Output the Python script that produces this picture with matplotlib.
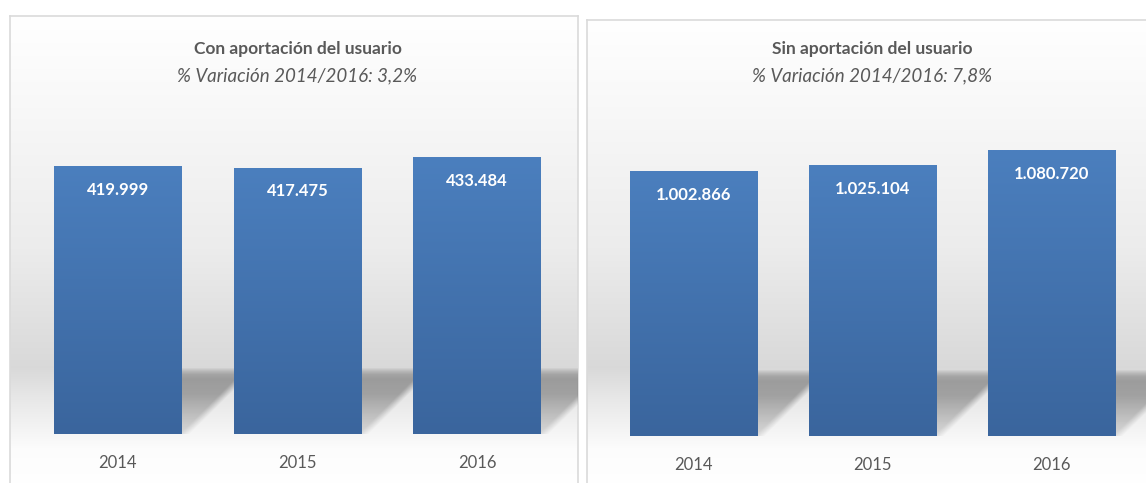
import numpy as np
import matplotlib
matplotlib.use("Agg")
import matplotlib.pyplot as plt
from matplotlib.colors import LinearSegmentedColormap

plt.rcParams['font.family'] = ['Lato', 'DejaVu Sans']

years = ["2014", "2015", "2016"]
con_aport = [419999, 417475, 433484]
sin_aport = [1002866, 1025104, 1080720]
titles = ["Con aportación del usuario", "Sin aportación del usuario"]
subtitles = ["% Variación 2014/2016: 3,2%", "% Variación 2014/2016: 7,8%"]

W, H = 1146, 483
fig = plt.figure(figsize=(W / 100, H / 100), dpi=100)


def rect(x0, y0, x1, y1):
    # pixel box (top-left origin) -> figure fraction
    return [x0 / W, 1 - y1 / H, (x1 - x0) / W, (y1 - y0) / H]


def fmt(v):
    return f"{v:,}".replace(",", ".")


def background(box):
    ax = fig.add_axes(rect(*box), zorder=0)
    top, bot = box[1], box[3]
    ys = np.linspace(top, bot, 400)
    stops = [top, 100, 250, 368, 400, 435, 450, bot]
    vals = [1.00, 0.975, 0.925, 0.85, 0.91, 0.965, 0.99, 1.0]
    g = np.interp(ys, stops, vals)
    img = np.repeat(np.repeat(g[:, None, None], 2, axis=1), 3, axis=2)
    ax.imshow(img, aspect="auto", extent=(0, 1, 0, 1), interpolation="bilinear")
    ax.set_xticks([])
    ax.set_yticks([])
    for s in ax.spines.values():
        s.set_color("#dadada")
        s.set_linewidth(1.2)
    return ax


bar_cmap = LinearSegmentedColormap.from_list("bar", ["#3a659d", "#4b7fbe"])


def panel(box, base_px, centers_px, ymax, values, title, subtitle):
    background(box)
    x0, y0, x1, _ = box
    step = (centers_px[2] - centers_px[0]) / 2
    ax = fig.add_axes(rect(x0, y0, x1, base_px), zorder=1)
    ax.patch.set_alpha(0)
    xs = np.arange(len(values))
    bars = ax.bar(xs, values, width=0.71, color="#4574b0", zorder=2)

    # soft floor shadow to the right of each bar, cut by a 45 degree edge
    px_x = 1 / step
    px_y = ymax / (base_px - y0)
    sw, sh = 90, 66
    dx, dy = np.meshgrid(np.linspace(0, sw, 180), np.linspace(0, sh, 132))
    prof = np.interp(dy, [0, 12, 30, 40, 55, 60, 64, 66],
                     [0.12, 0.17, 0.25, 0.3, 0.3, 0.25, 0.12, 0.03])
    edge = np.clip((dy - (dx - 3)) / 10 + 0.5, 0, 1)
    shade = np.zeros(dx.shape + (4,))
    shade[..., 3] = prof * edge
    for b in bars:
        xr = b.get_x() + b.get_width()
        ax.imshow(shade, aspect="auto", origin="lower", interpolation="bilinear",
                  extent=(xr, xr + sw * px_x, 0, sh * px_y), zorder=1)

    grad = np.linspace(0, 1, 256)[:, None]
    for b in bars:
        im = ax.imshow(grad, cmap=bar_cmap, aspect="auto", origin="lower",
                       extent=(b.get_x(), b.get_x() + b.get_width(), 0, b.get_height()),
                       zorder=3)
        im.set_clip_path(b)
        ax.annotate(fmt(b.get_height()), (b.get_x() + b.get_width() / 2, b.get_height()),
                    xytext=(0, -17), textcoords="offset points", ha="center", va="center",
                    color="white", fontsize=12, fontweight="bold", zorder=4)
    ax.set_xlim(-(centers_px[0] - x0) / step, 2 + (x1 - centers_px[2]) / step)
    ax.set_ylim(0, ymax)
    ax.set_yticks([])
    ax.set_xticks(xs)
    ax.set_xticklabels(years, fontsize=12, color="#595959")
    ax.tick_params(axis="x", length=0, pad=15)
    for s in ax.spines.values():
        s.set_visible(False)
    cx = centers_px[1]
    fig.text(cx / W, 1 - 49 / H, title, ha="center", va="center",
             fontsize=12.5, fontweight="bold", color="#595959")
    fig.text(cx / W, 1 - 76 / H, subtitle, ha="center", va="center",
             fontsize=13.5, style="italic", color="#595959")


panel((10, 16, 578, 490), 434, [117.7, 297.5, 477.3], 655000,
      con_aport, titles[0], subtitles[0])
panel((587, 20, 1160, 490), 436, [693.6, 872.5, 1051.8], 1574000,
      sin_aport, titles[1], subtitles[1])

fig.savefig("out.png", dpi=100, facecolor="white")
